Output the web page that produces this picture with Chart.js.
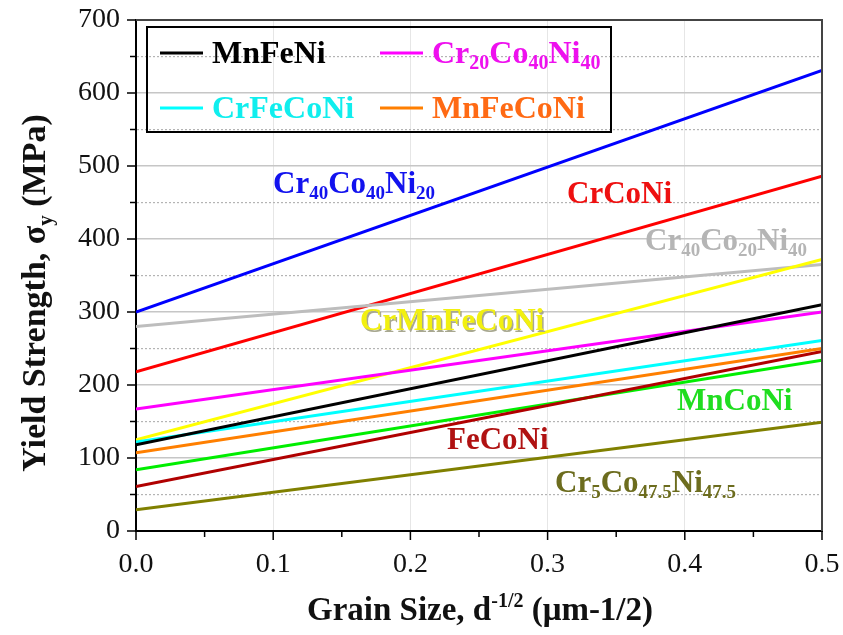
<!DOCTYPE html>
<html>
<head>
<meta charset="utf-8">
<script src="https://cdn.jsdelivr.net/npm/chart.js@4.4.0/dist/chart.umd.min.js"></script>
<style>
  html, body { margin: 0; padding: 0; background: #fff; }
  canvas { display: block; }
</style>
</head>
<body>
<canvas id="hpChart" width="843" height="635"></canvas>
<script>
// grain size d^-1/2 (um^-1/2) at the two ends of each fit line
const grainSize = [0, 0.5];

// yield strength (MPa) at d^-1/2 = 0 and 0.5
const MnFeNi       = [118, 310];
const Cr20Co40Ni40 = [167, 300];
const CrFeCoNi     = [122, 261];
const MnFeCoNi     = [107, 250];
const Cr40Co40Ni20 = [300, 631];
const CrCoNi       = [218, 486];
const Cr40Co20Ni40 = [280, 365];
const CrMnFeCoNi   = [125, 372];
const MnCoNi       = [84, 234];
const FeCoNi       = [61, 246];
const Cr5Co475Ni475 = [29, 149];

const xTicks = [0, 0.1, 0.2, 0.3, 0.4, 0.5];
const yTicks = [0, 100, 200, 300, 400, 500, 600, 700];

const SERIF = "'Liberation Serif', 'Times New Roman', serif";

const toPoints = vals => vals.map((v, i) => ({ x: grainSize[i], y: v }));
const mkSet = (label, vals, color) => ({
    label, data: toPoints(vals), borderColor: color, backgroundColor: color,
    borderWidth: 3, pointRadius: 0, showLine: true, fill: false, tension: 0
});

// draw a string made of normal / sub / sup pieces
function drawRich(ctx, parts, x, y, size, color, measureOnly) {
    let cx = x;
    parts.forEach(([t, mode]) => {
        const small = mode === 'sub' || mode === 'sup';
        const fs = small ? Math.round(size * 0.62) : size;
        ctx.font = `bold ${fs}px ${SERIF}`;
        const dy = mode === 'sub' ? size * 0.2 : mode === 'sup' ? -size * 0.38 : 0;
        if (!measureOnly) { ctx.fillStyle = color; ctx.fillText(t, cx, y + dy); }
        cx += ctx.measureText(t).width;
    });
    return cx - x;
}

// inline labels that sit next to the lines
const lineLabels = [
    { parts: [['Cr'], ['40', 'sub'], ['Co'], ['40', 'sub'], ['Ni'], ['20', 'sub']], x: 273, y: 193, color: '#1212ee' },
    { parts: [['CrCoNi']], x: 567, y: 203, color: '#ee1010' },
    { parts: [['Cr'], ['40', 'sub'], ['Co'], ['20', 'sub'], ['Ni'], ['40', 'sub']], x: 645, y: 250, color: '#b5b5b5' },
    { parts: [['CrMnFeCoNi']], x: 360, y: 330, color: '#f2f010', shadow: '#a8a890' },
    { parts: [['MnCoNi']], x: 677, y: 410, color: '#20dd20' },
    { parts: [['FeCoNi']], x: 447, y: 449, color: '#b01212' },
    { parts: [['Cr'], ['5', 'sub'], ['Co'], ['47.5', 'sub'], ['Ni'], ['47.5', 'sub']], x: 555, y: 492, color: '#6c6c1e' }
];

// legend only holds 4 entries (dataset index -> position)
const legendItems = [
    { ds: 0, parts: [['MnFeNi']], x: 160, y: 53 },
    { ds: 1, parts: [['Cr'], ['20', 'sub'], ['Co'], ['40', 'sub'], ['Ni'], ['40', 'sub']], x: 380, y: 53 },
    { ds: 2, parts: [['CrFeCoNi']], x: 160, y: 108 },
    { ds: 3, parts: [['MnFeCoNi']], x: 380, y: 108 }
];
const legendText = ['#000000', '#ee10ee', '#10eeee', '#ff6a14'];

const extrasPlugin = {
    id: 'extras',
    afterDraw(chart) {
        const ctx = chart.ctx;
        const { left, right, top, bottom } = chart.chartArea;
        ctx.save();

        // top / right frame
        ctx.strokeStyle = '#444';
        ctx.lineWidth = 2;
        ctx.beginPath();
        ctx.moveTo(left, top); ctx.lineTo(right, top); ctx.lineTo(right, bottom);
        ctx.stroke();

        // tick marks, long on majors, short on minors
        ctx.strokeStyle = '#000';
        ctx.lineWidth = 1.5;
        const xs = chart.scales.x, ys = chart.scales.y;
        xs.ticks.forEach(t => {
            const px = xs.getPixelForValue(t.value);
            const major = Math.round(t.value * 100) % 10 === 0;
            ctx.beginPath(); ctx.moveTo(px, bottom); ctx.lineTo(px, bottom + (major ? 9 : 6)); ctx.stroke();
        });
        ys.ticks.forEach(t => {
            const py = ys.getPixelForValue(t.value);
            const major = t.value % 100 === 0;
            ctx.beginPath(); ctx.moveTo(left, py); ctx.lineTo(left - (major ? 9 : 6), py); ctx.stroke();
        });

        // legend box
        ctx.strokeStyle = '#000';
        ctx.lineWidth = 2;
        ctx.strokeRect(147, 27, 464, 105);
        ctx.textBaseline = 'alphabetic';
        ctx.textAlign = 'left';
        legendItems.forEach((it, i) => {
            const ds = chart.data.datasets[it.ds];
            ctx.strokeStyle = ds.borderColor;
            ctx.lineWidth = 3;
            ctx.beginPath(); ctx.moveTo(it.x, it.y); ctx.lineTo(it.x + 43, it.y); ctx.stroke();
            drawRich(ctx, it.parts, it.x + 52, it.y + 10, 32, legendText[i]);
        });

        // labels on the plot
        lineLabels.forEach(l => {
            if (l.shadow) drawRich(ctx, l.parts, l.x + 1.5, l.y + 1.5, 31, l.shadow);
            drawRich(ctx, l.parts, l.x, l.y, 31, l.color);
        });

        // axis titles
        const xt = [['Grain Size, d'], ['-1/2', 'sup'], [' (\u03bcm-1/2)']];
        const xw = drawRich(ctx, xt, 0, 0, 33, '#000', true);
        drawRich(ctx, xt, 480 - xw / 2, 620, 33, '#111');

        const yt = [['Yield Strength, \u03c3'], ['y', 'sub'], [' (MPa)']];
        ctx.translate(45, 293);
        ctx.rotate(-Math.PI / 2);
        const yw = drawRich(ctx, yt, 0, 0, 34, '#000', true);
        drawRich(ctx, yt, -yw / 2, 0, 34, '#111');

        ctx.restore();
    }
};

new Chart(document.getElementById('hpChart'), {
    type: 'scatter',
    data: {
        datasets: [
            mkSet('MnFeNi', MnFeNi, '#000000'),
            mkSet('Cr20Co40Ni40', Cr20Co40Ni40, '#ff00ff'),
            mkSet('CrFeCoNi', CrFeCoNi, '#00ffff'),
            mkSet('MnFeCoNi', MnFeCoNi, '#ff7f00'),
            mkSet('Cr5Co47.5Ni47.5', Cr5Co475Ni475, '#808000'),
            mkSet('FeCoNi', FeCoNi, '#b00000'),
            mkSet('MnCoNi', MnCoNi, '#00ee00'),
            mkSet('CrMnFeCoNi', CrMnFeCoNi, '#ffff00'),
            mkSet('Cr40Co20Ni40', Cr40Co20Ni40, '#bdbdbd'),
            mkSet('CrCoNi', CrCoNi, '#ff0000'),
            mkSet('Cr40Co40Ni20', Cr40Co40Ni20, '#0000ff')
        ]
    },
    options: {
        responsive: false,
        animation: false,
        layout: { padding: { top: 20, right: 21, left: 0, bottom: 0 } },
        plugins: { legend: { display: false }, tooltip: { enabled: false } },
        scales: {
            x: {
                type: 'linear', min: 0, max: 0.5,
                afterFit: s => { s.height = 104; s.paddingLeft = 0; s.paddingRight = 0; },
                afterBuildTicks: s => {
                    // majors from xTicks plus the halfway minors
                    const t = [];
                    xTicks.forEach((v, i) => { t.push({ value: v }); if (i < xTicks.length - 1) t.push({ value: (v + xTicks[i + 1]) / 2 }); });
                    s.ticks = t;
                },
                ticks: {
                    autoSkip: false, maxRotation: 0, padding: 17,
                    color: '#111', font: { family: SERIF, size: 28 },
                    callback: v => (Math.round(v * 100) % 10 === 0 ? v.toFixed(1) : '')
                },
                grid: {
                    drawTicks: false, lineWidth: 1,
                    color: c => (c.tick && Math.round(c.tick.value * 100) % 10 === 0 && c.tick.value > 0 && c.tick.value < 0.5 ? '#e6e6e6' : 'rgba(0,0,0,0)')
                },
                border: { color: '#000', width: 2 }
            },
            y: {
                min: 0, max: 700,
                afterFit: s => { s.width = 136; s.paddingTop = 0; s.paddingBottom = 0; },
                afterBuildTicks: s => {
                    const t = [];
                    yTicks.forEach((v, i) => { t.push({ value: v }); if (i < yTicks.length - 1) t.push({ value: v + 50 }); });
                    s.ticks = t;
                },
                ticks: {
                    autoSkip: false, padding: 16,
                    color: '#111', font: { family: SERIF, size: 28 },
                    callback: v => (v % 100 === 0 ? String(v) : '')
                },
                grid: {
                    drawTicks: false,
                    lineWidth: c => (c.tick && c.tick.value % 100 === 0 ? 1.6 : 1.2),
                    color: c => (c.tick && c.tick.value > 0 && c.tick.value < 700 ? (c.tick.value % 100 === 0 ? '#c6c6c6' : '#b4b4b4') : 'rgba(0,0,0,0)')
                },
                border: {
                    color: '#000', width: 2,
                    dash: c => (c.tick && c.tick.value % 100 !== 0 ? [2, 2] : [])
                }
            }
        }
    },
    plugins: [extrasPlugin]
});
</script>
</body>
</html>
